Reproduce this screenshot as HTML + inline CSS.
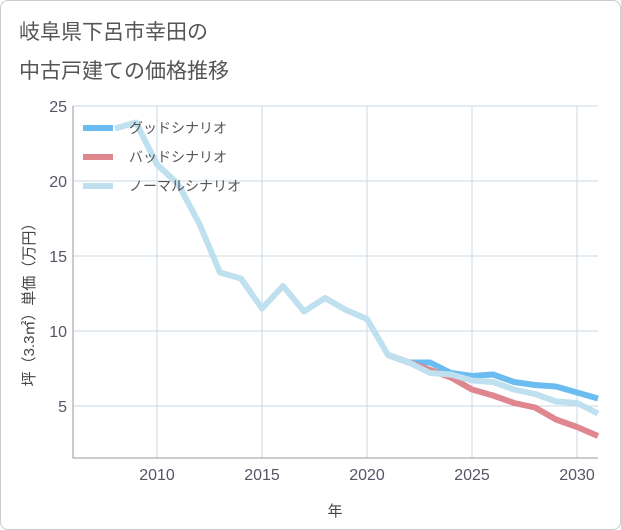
<!DOCTYPE html>
<html><head><meta charset="utf-8"><style>
body{margin:0;background:#fff;font-family:"Liberation Sans","Noto Sans CJK JP",sans-serif;}
#wrap{position:relative;width:619px;height:528px;border:1px solid #ccc;border-radius:8px;overflow:hidden;}
</style></head><body>
<div id="wrap">
<svg id="chart" width="621" height="530">
<text x="18" y="38" font-size="21" fill="#555">岐阜県下呂市幸田の</text>
<text x="18" y="77" font-size="21" fill="#555">中古戸建ての価格推移</text>
<g id="grid"></g><g id="series"></g><g id="legend"></g>
<text x="334" y="515" font-size="15" fill="#444" text-anchor="middle">年</text>
<text transform="translate(33,300) rotate(-90)" font-size="15" fill="#444" text-anchor="middle">坪（3.3㎡）単価（万円）</text>
</svg></div>
<script>
const years=[2008,2009,2010,2011,2012,2013,2014,2015,2016,2017,2018,2019,2020,2021,2022,2023,2024,2025,2026,2027,2028,2029,2030,2031];
const normal=[23.5,23.9,21.1,19.8,17.2,13.9,13.5,11.5,13.0,11.3,12.2,11.4,10.8,8.4,7.9,7.2,7.1,6.7,6.6,6.1,5.8,5.3,5.2,4.5];
const futYears=[2021,2022,2023,2024,2025,2026,2027,2028,2029,2030,2031];
const good=[8.4,7.9,7.9,7.2,7.0,7.1,6.6,6.4,6.3,5.9,5.5];
const bad=[8.4,7.9,7.4,6.9,6.1,5.7,5.2,4.9,4.1,3.6,3.0];
const xTicks=[2010,2015,2020,2025,2030];
const yTicks=[5,10,15,20,25];
const X0=72,X1=597,Y0=105,Y1=457;
const xs=v=>X0+(v-2006)*(X1-X0)/25;
const ys=v=>Y0+(25-v)*15;
const NS="http://www.w3.org/2000/svg";
function mk(p,t,a){const e=document.createElementNS(NS,t);for(const k in a)e.setAttribute(k,a[k]);p.appendChild(e);return e;}
const g=document.getElementById('grid');
yTicks.forEach(v=>{
 const l=mk(g,'line',{x1:X0,x2:X1,y1:ys(v),y2:ys(v),stroke:'#c9d9e6','stroke-width':1});
 
 
 const t=mk(g,'text',{x:X0-6,y:ys(v)+6,'font-size':16,fill:'#556','text-anchor':'end'});t.textContent=v;
 
 
});
xTicks.forEach(v=>{
 const l=mk(g,'line',{x1:xs(v),x2:xs(v),y1:Y0,y2:Y1,stroke:'#c9d9e6','stroke-width':1});
 
 
 const t=mk(g,'text',{x:xs(v),y:Y1+22,'font-size':16,fill:'#556','text-anchor':'middle'});t.textContent=v;
 
 
});
const ax=mk(g,'path',{d:`M${X0},${Y0}V${Y1}H${X1}`,fill:'none',stroke:'#999','stroke-width':1});


const s=document.getElementById('series');
function line(xv,yv,c,n){const d=xv.map((x,i)=>(i?'L':'M')+xs(x)+','+ys(yv[i])).join('');
 const p=mk(s,'path',{d:d,fill:'none',stroke:c,'stroke-width':6,'stroke-linejoin':'round'});
 
 }
line(futYears,good,'#6bbcf0','good-scenario-line');
line(futYears,bad,'#e0868e','bad-scenario-line');
line(years,normal,'#bfe0ee','normal-scenario-line');
const lg=document.getElementById('legend');
[['グッドシナリオ','#6bbcf0'],['バッドシナリオ','#e0868e'],['ノーマルシナリオ','#bfe0ee']].forEach((e,i)=>{
 const y=127+i*29;
 const r=mk(lg,'rect',{x:82,y:y-3,width:30,height:6,fill:e[1]});
 
 
 const t=mk(lg,'text',{x:128,y:y+5,'font-size':14,fill:'#555'});t.textContent=e[0];
 
 
});
</script>
</body></html>
